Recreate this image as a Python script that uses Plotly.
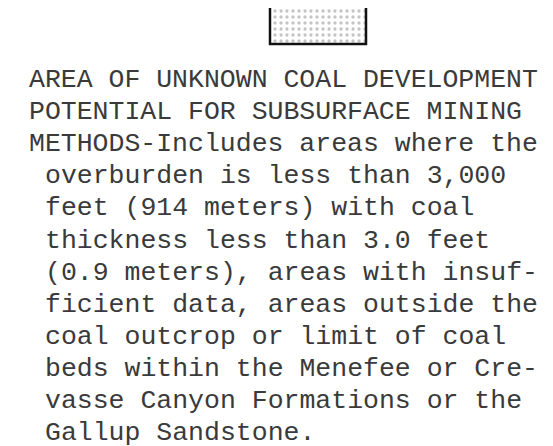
import plotly.graph_objects as go

# Legend swatch (pixel-space box)
swatch_x = [262, 358, 358, 262, 262]
swatch_y = [-5, -5, 36, 36, -5]

# Text lines and their indentation level (0 = flush, 1 = hanging indent)
lines = [
    "AREA OF UNKNOWN COAL DEVELOPMENT",
    "POTENTIAL FOR SUBSURFACE MINING",
    "METHODS-Includes areas where the",
    "overburden is less than 3,000",
    "feet (914 meters) with coal",
    "thickness less than 3.0 feet",
    "(0.9 meters), areas with insuf-",
    "ficient data, areas outside the",
    "coal outcrop or limit of coal",
    "beds within the Menefee or Cre-",
    "vasse Canyon Formations or the",
    "Gallup Sandstone.",
]
indent = [0, 0, 0, 1, 1, 1, 1, 1, 1, 1, 1, 1]

W, H = 553, 446
fig = go.Figure()

fig.add_trace(go.Scatter(
    x=swatch_x, y=swatch_y, mode="lines", fill="toself",
    line=dict(color="#111111", width=2.5),
    fillcolor="white",
    fillpattern=dict(shape=".", size=6, solidity=0.25, fgcolor="#8a8a8a", bgcolor="white"),
    hoverinfo="skip", showlegend=False,
))

y0, dy = 72, 32.1
x0, dx_ind = 19, 16
for i, (t, ind) in enumerate(zip(lines, indent)):
    fig.add_annotation(
        x=x0 + ind * dx_ind, y=y0 + i * dy, xref="x", yref="y",
        text=t, showarrow=False, xanchor="left", yanchor="middle",
        font=dict(family="Courier New, Courier, Nimbus Mono PS, FreeMono, Liberation Mono, monospace",
                  size=26.5, color="#3a3a3a"),
    )

fig.update_layout(
    width=W, height=H, margin=dict(l=0, r=0, t=0, b=0),
    paper_bgcolor="white", plot_bgcolor="white",
    xaxis=dict(range=[0, W], visible=False, fixedrange=True),
    yaxis=dict(range=[H, 0], visible=False, fixedrange=True),
    showlegend=False,
)
fig.write_html("out.html")
